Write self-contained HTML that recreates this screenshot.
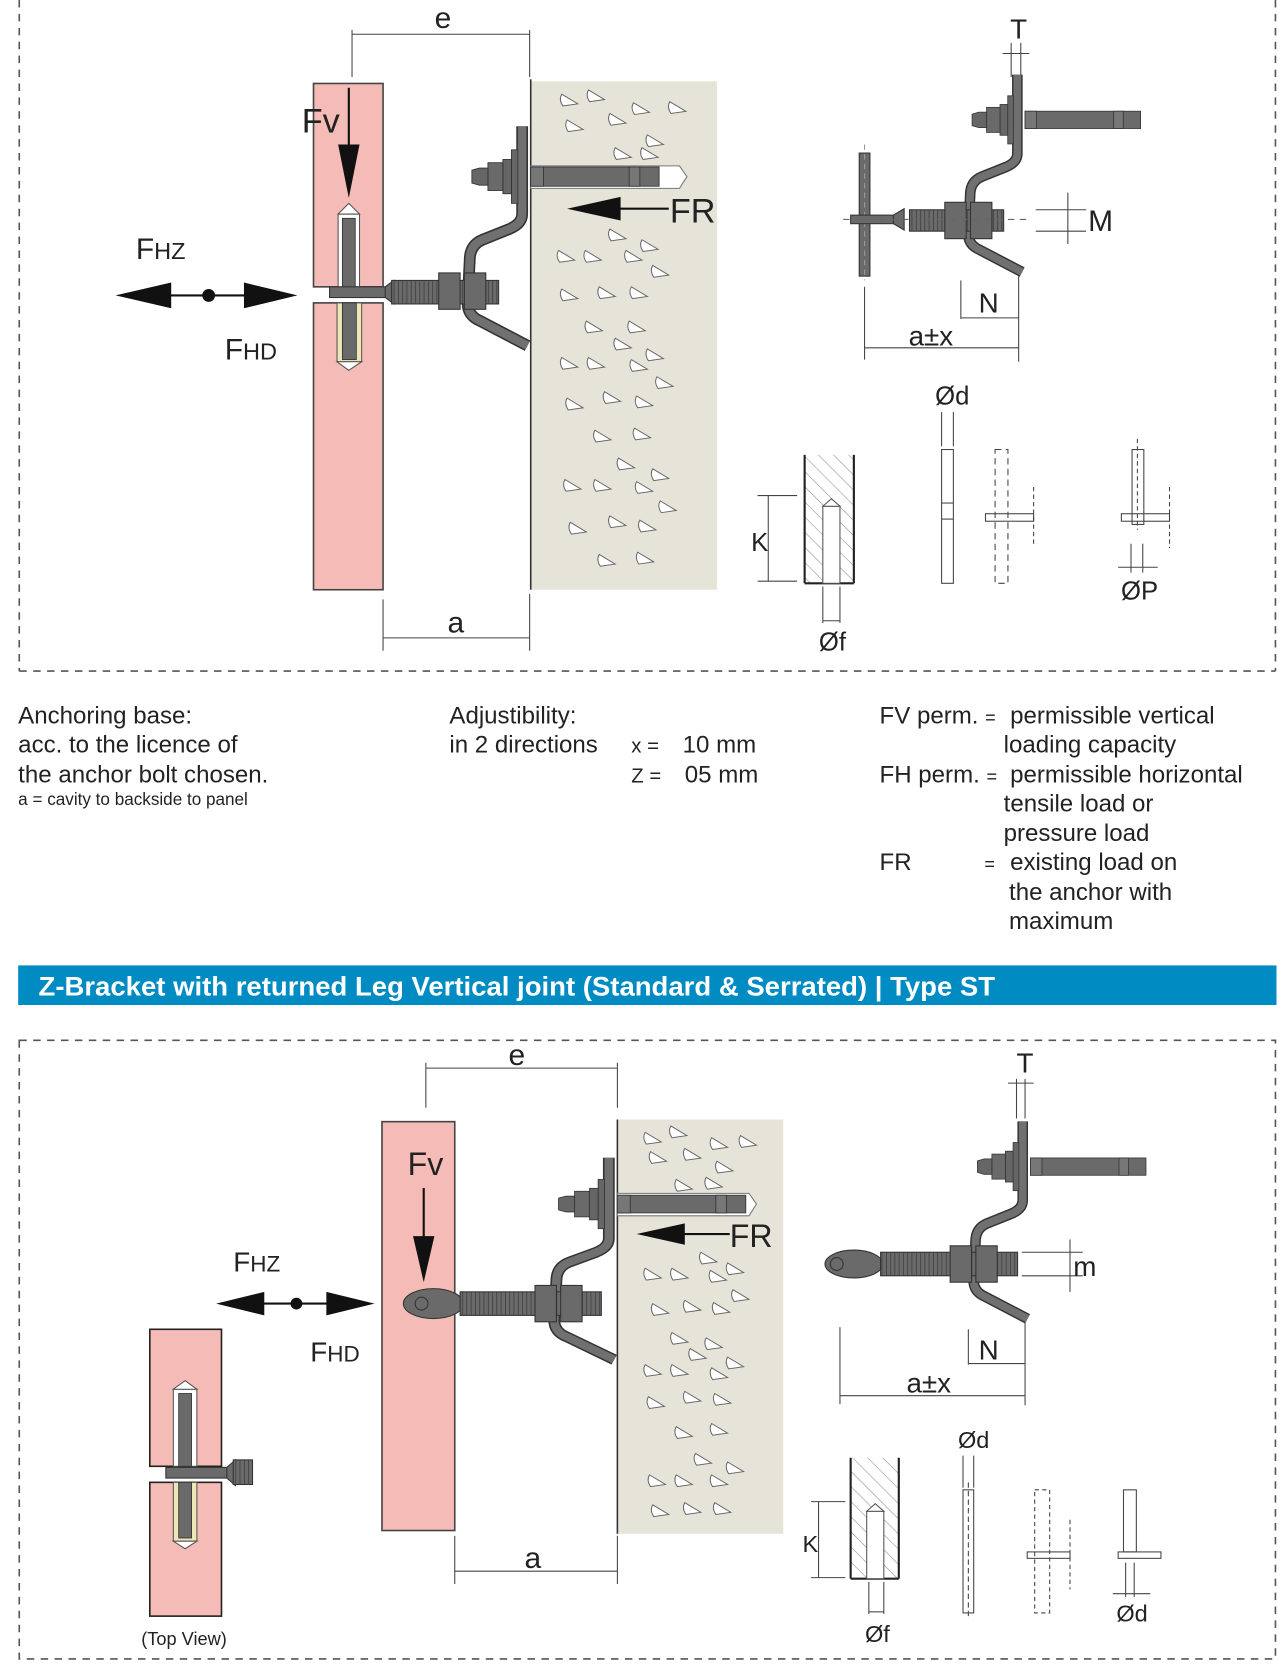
<!DOCTYPE html>
<html><head><meta charset="utf-8"><style>
html,body{margin:0;padding:0;background:#fff}
svg{display:block}
text{font-family:"Liberation Sans",sans-serif;fill:#222}
</style></head><body>
<svg width="1284" height="1675" viewBox="0 0 1200 1565" preserveAspectRatio="none" xmlns="http://www.w3.org/2000/svg">
<defs>
<path id="tri" d="M0,0 L15,9 L1,11 Q-3,5 0,0Z" fill="#fff" stroke="#666" stroke-width="0.9"/>
<g id="brk">
 <path d="M-8,-47 L-8,35 Q-8,44 -20,49 L-45,59 Q-57,64 -57,78 L-59,118 Q-59,130 -47,135 L-3,158" fill="none" stroke="#333" stroke-width="11" stroke-linejoin="round"/>
 <path d="M-8,-47 L-8,35 Q-8,44 -20,49 L-45,59 Q-57,64 -57,78 L-59,118 Q-59,130 -47,135 L-3,158" fill="none" stroke="#707070" stroke-width="8" stroke-linejoin="round"/>
 <rect x="-18" y="-25" width="6" height="50" fill="#666" stroke="#333" stroke-width="0.8"/>
 <rect x="-26" y="-16" width="8" height="32" fill="#666" stroke="#333" stroke-width="0.8"/>
 <rect x="-40" y="-13" width="14" height="26" fill="#6a6a6a" stroke="#333" stroke-width="0.8"/>
 <path d="M-55,-6 L-48,-8 L-40,-8 L-40,8 L-48,8 L-55,6Z" fill="#666" stroke="#333" stroke-width="0.8"/>
 <rect x="0" y="-9" width="120" height="18" fill="#6a6a6a" stroke="#333" stroke-width="0.8"/>
 <rect x="92" y="-9" width="10" height="18" fill="#777" stroke="#333" stroke-width="0.8"/>
 <rect x="0" y="-9" width="12" height="18" fill="#777" stroke="#333" stroke-width="0.8"/>
</g>
<g id="nuts">
 <rect x="-30" y="-17" width="20" height="34" fill="#6a6a6a" stroke="#333"/>
 <rect x="-6" y="-17" width="20" height="34" fill="#6a6a6a" stroke="#333"/>
</g>
<pattern id="hatch" width="10" height="10" patternUnits="userSpaceOnUse" patternTransform="rotate(-45)"><line x1="0" y1="0" x2="0" y2="10" stroke="#888" stroke-width="1"/></pattern>
<pattern id="thr" width="4" height="10" patternUnits="userSpaceOnUse"><rect width="4" height="10" fill="#6a6a6a"/><line x1="0" y1="0" x2="0" y2="10" stroke="#333" stroke-width="1.2"/></pattern>
</defs>

<g stroke="#555" stroke-width="1.5" stroke-dasharray="7,6" fill="none">
<line x1="18" y1="0" x2="18" y2="627"/><line x1="1192" y1="0" x2="1192" y2="627"/><line x1="18" y1="627" x2="1192" y2="627"/>
</g>
<g stroke="#444" stroke-width="1" fill="none">
<line x1="329" y1="32" x2="495" y2="32"/><line x1="329" y1="28" x2="329" y2="72"/><line x1="495" y1="28" x2="495" y2="72"/>
<line x1="358" y1="596" x2="495" y2="596"/><line x1="358" y1="560" x2="358" y2="608"/><line x1="495" y1="555" x2="495" y2="608"/>
</g>
<text x="414" y="26" font-size="28" text-anchor="middle">e</text>
<text x="426" y="591" font-size="28" text-anchor="middle">a</text>
<rect x="293" y="78" width="65" height="190" fill="#f5bcb7" stroke="#444" stroke-width="1.5"/>
<rect x="293" y="283" width="65" height="268" fill="#f5bcb7" stroke="#444" stroke-width="1.5"/>
<rect x="496" y="76" width="174" height="475" fill="#e6e4d8"/>
<line x1="496" y1="74" x2="496" y2="551" stroke="#333" stroke-width="1.5"/>
<g>
<use href="#tri" x="525" y="88"/><use href="#tri" x="550" y="84"/><use href="#tri" x="592" y="96"/><use href="#tri" x="626" y="95"/>
<use href="#tri" x="530" y="112"/><use href="#tri" x="570" y="106"/><use href="#tri" x="605" y="126"/><use href="#tri" x="575" y="138"/><use href="#tri" x="600" y="138"/>
<use href="#tri" x="570" y="214"/><use href="#tri" x="600" y="224"/><use href="#tri" x="522" y="234"/><use href="#tri" x="547" y="234"/><use href="#tri" x="585" y="234"/>
<use href="#tri" x="610" y="248"/><use href="#tri" x="525" y="270"/><use href="#tri" x="560" y="268"/><use href="#tri" x="590" y="268"/>
<use href="#tri" x="548" y="300"/><use href="#tri" x="588" y="300"/><use href="#tri" x="575" y="316"/><use href="#tri" x="605" y="326"/>
<use href="#tri" x="525" y="334"/><use href="#tri" x="550" y="334"/><use href="#tri" x="590" y="336"/><use href="#tri" x="614" y="352"/>
<use href="#tri" x="530" y="372"/><use href="#tri" x="565" y="366"/><use href="#tri" x="595" y="370"/><use href="#tri" x="556" y="402"/><use href="#tri" x="593" y="400"/>
<use href="#tri" x="578" y="428"/><use href="#tri" x="610" y="438"/><use href="#tri" x="528" y="448"/><use href="#tri" x="556" y="448"/><use href="#tri" x="595" y="450"/>
<use href="#tri" x="617" y="468"/><use href="#tri" x="533" y="488"/><use href="#tri" x="570" y="482"/><use href="#tri" x="598" y="486"/><use href="#tri" x="560" y="518"/><use href="#tri" x="596" y="516"/>
</g>
<path d="M496,155 L635,155 L642,165 L635,176 L496,176Z" fill="#fff" stroke="#777"/>
<use href="#brk" x="496" y="165"/>
<rect x="316" y="200" width="20" height="68" fill="#fff" stroke="#555"/>
<path d="M316,200 L326,190 L336,200Z" fill="#fff" stroke="#555"/>
<rect x="320" y="204" width="12" height="64" fill="#6a6a6a" stroke="#333" stroke-width="0.8"/>
<rect x="315" y="283" width="23" height="55" fill="#efe6b5" stroke="#555"/>
<path d="M315,338 L326,346 L338,338Z" fill="#fff" stroke="#555"/>
<rect x="320" y="283" width="13" height="53" fill="#6a6a6a" stroke="#333" stroke-width="0.8"/>
<rect x="308" y="268" width="55" height="10" fill="#6a6a6a" stroke="#333"/>
<path d="M360,268 L368,262 L368,284 L360,278Z" fill="#6a6a6a" stroke="#333"/>
<rect x="366" y="262" width="100" height="22" fill="url(#thr)" stroke="#333"/>
<use href="#nuts" x="440" y="272"/>
<line x1="326" y1="82" x2="326" y2="140" stroke="#111" stroke-width="2"/>
<path d="M316,135 L336,135 L326,185Z" fill="#111"/>
<text x="282" y="124" font-size="32">Fv</text>
<line x1="575" y1="195" x2="625" y2="195" stroke="#111" stroke-width="2"/>
<path d="M530,195 L580,184 L580,206Z" fill="#111"/>
<text x="626" y="208" font-size="32">FR</text>
<line x1="150" y1="276" x2="240" y2="276" stroke="#111" stroke-width="2"/>
<path d="M108,276 L160,264 L160,288Z M278,276 L228,264 L228,288Z" fill="#111"/>
<circle cx="195" cy="276" r="6" fill="#111"/>
<text x="127" y="242" font-size="28">F<tspan font-size="22">HZ</tspan></text>
<text x="210" y="336" font-size="28">F<tspan font-size="22">HD</tspan></text>

<g stroke="#444" stroke-width="1" fill="none">
<line x1="945" y1="40" x2="945" y2="72"/><line x1="954" y1="40" x2="954" y2="72"/><line x1="937" y1="50" x2="962" y2="50"/>
<line x1="998" y1="180" x2="998" y2="228"/><line x1="968" y1="196" x2="1015" y2="196"/><line x1="968" y1="216" x2="1015" y2="216"/>
<line x1="898" y1="262" x2="898" y2="298"/><line x1="952" y1="255" x2="952" y2="338"/><line x1="898" y1="297" x2="952" y2="297"/>
<line x1="808" y1="268" x2="808" y2="336"/><line x1="808" y1="325" x2="952" y2="325"/>
</g>
<text x="952" y="36" font-size="26" text-anchor="middle">T</text>
<text x="1017" y="216" font-size="28">M</text>
<text x="924" y="292" font-size="26" text-anchor="middle">N</text>
<text x="870" y="323" font-size="26" text-anchor="middle">a±x</text>
<g transform="translate(958,112) scale(0.9)"><use href="#brk"/></g>
<rect x="803" y="143" width="10" height="115" fill="#6a6a6a" stroke="#333"/>
<line x1="808" y1="135" x2="808" y2="262" stroke="#999" stroke-dasharray="5,4"/>
<rect x="795" y="201" width="40" height="8" fill="#6a6a6a" stroke="#333"/>
<path d="M835,201 L845,195 L845,215 L835,209Z" fill="#6a6a6a" stroke="#333"/>
<rect x="850" y="196" width="88" height="20" fill="url(#thr)" stroke="#333"/>
<use href="#nuts" x="913" y="206"/>
<line x1="788" y1="205" x2="960" y2="205" stroke="#666" stroke-dasharray="6,5"/>
<rect x="752" y="425" width="46" height="120" fill="url(#hatch)"/>
<line x1="752" y1="425" x2="752" y2="545" stroke="#222" stroke-width="2"/><line x1="798" y1="425" x2="798" y2="545" stroke="#222" stroke-width="2"/><line x1="752" y1="545" x2="798" y2="545" stroke="#222" stroke-width="2"/>
<rect x="769" y="473" width="16" height="72" fill="#fff" stroke="#555"/><path d="M769,473 L777,466 L785,473Z" fill="#fff" stroke="#555"/>
<g stroke="#444" stroke-width="1" fill="none">
<line x1="708" y1="463" x2="745" y2="463"/><line x1="708" y1="543" x2="745" y2="543"/><line x1="718" y1="463" x2="718" y2="543"/>
<line x1="769" y1="548" x2="769" y2="582"/><line x1="785" y1="548" x2="785" y2="582"/><line x1="769" y1="580" x2="785" y2="580"/>
<line x1="880" y1="385" x2="880" y2="417"/><line x1="891" y1="385" x2="891" y2="417"/>
<rect x="880" y="420" width="11" height="125"/><line x1="880" y1="470" x2="891" y2="470"/><line x1="880" y1="485" x2="891" y2="485"/>
<rect x="930" y="420" width="12" height="125" stroke-dasharray="6,4"/><rect x="921" y="480" width="45" height="7"/><line x1="966" y1="455" x2="966" y2="510" stroke-dasharray="4,3"/>
<rect x="1058" y="420" width="11" height="70"/><rect x="1048" y="480" width="45" height="7"/><line x1="1093" y1="455" x2="1093" y2="512" stroke-dasharray="4,3"/>
<line x1="1063" y1="410" x2="1063" y2="495" stroke-dasharray="4,3"/>
<line x1="1057" y1="508" x2="1057" y2="535"/><line x1="1068" y1="508" x2="1068" y2="535"/><line x1="1045" y1="530" x2="1082" y2="530"/>
</g>
<text x="702" y="515" font-size="24">K</text>
<text x="778" y="608" font-size="24" text-anchor="middle">Øf</text>
<text x="890" y="378" font-size="24" text-anchor="middle">Ød</text>
<text x="1065" y="560" font-size="24" text-anchor="middle">ØP</text>

<g font-size="22.5">
<text x="17" y="676">Anchoring base:</text>
<text x="17" y="703">acc. to the licence of</text>
<text x="17" y="731">the anchor bolt chosen.</text>
<text x="17" y="752" font-size="16">a = cavity to backside to panel</text>
<text x="420" y="676">Adjustibility:</text>
<text x="420" y="703">in  2  directions</text>
<text x="590" y="703" font-size="19">x =</text><text x="638" y="703">10 mm</text>
<text x="590" y="731" font-size="19">Z =</text><text x="640" y="731">05 mm</text>
<text x="822" y="676">FV perm. <tspan font-size="17">=</tspan></text><text x="944" y="676">permissible vertical</text>
<text x="938" y="703">loading capacity</text>
<text x="822" y="731">FH perm. <tspan font-size="17">=</tspan></text><text x="944" y="731">permissible horizontal</text>
<text x="938" y="758">tensile load or</text>
<text x="938" y="786">pressure load</text>
<text x="822" y="813">FR</text><text x="920" y="813" font-size="17">=</text><text x="944" y="813">existing load on</text>
<text x="943" y="841">the anchor  with</text>
<text x="943" y="868">maximum</text>
</g>

<rect x="17" y="902" width="1176" height="37" fill="#008bc2"/>
<text x="36" y="930" font-size="25" font-weight="bold" textLength="894" lengthAdjust="spacingAndGlyphs" style="fill:#fff">Z-Bracket with returned Leg Vertical joint (Standard &amp; Serrated)  | Type ST</text>

<g stroke="#555" stroke-width="1.5" stroke-dasharray="7,6" fill="none">
<rect x="18" y="972" width="1174" height="578"/>
</g>
<g stroke="#444" stroke-width="1" fill="none">
<line x1="398" y1="998" x2="577" y2="998"/><line x1="398" y1="993" x2="398" y2="1035"/><line x1="577" y1="993" x2="577" y2="1035"/>
<line x1="425" y1="1468" x2="577" y2="1468"/><line x1="425" y1="1435" x2="425" y2="1480"/><line x1="577" y1="1435" x2="577" y2="1480"/>
</g>
<text x="483" y="995" font-size="28" text-anchor="middle">e</text>
<text x="498" y="1465" font-size="28" text-anchor="middle">a</text>
<rect x="357" y="1048" width="68" height="382" fill="#f5bcb7" stroke="#444" stroke-width="1.5"/>
<rect x="577" y="1046" width="155" height="387" fill="#e6e4d8"/>
<line x1="577" y1="1046" x2="577" y2="1433" stroke="#333" stroke-width="1.5"/>
<g>
<use href="#tri" x="603" y="1058"/><use href="#tri" x="627" y="1052"/><use href="#tri" x="665" y="1063"/><use href="#tri" x="692" y="1061"/>
<use href="#tri" x="608" y="1076"/><use href="#tri" x="640" y="1073"/><use href="#tri" x="670" y="1085"/><use href="#tri" x="632" y="1102"/><use href="#tri" x="660" y="1100"/>
<use href="#tri" x="655" y="1170"/><use href="#tri" x="680" y="1180"/><use href="#tri" x="603" y="1185"/><use href="#tri" x="628" y="1185"/><use href="#tri" x="664" y="1187"/>
<use href="#tri" x="685" y="1205"/><use href="#tri" x="610" y="1218"/><use href="#tri" x="640" y="1215"/><use href="#tri" x="667" y="1217"/>
<use href="#tri" x="628" y="1245"/><use href="#tri" x="660" y="1250"/><use href="#tri" x="645" y="1260"/><use href="#tri" x="680" y="1268"/>
<use href="#tri" x="603" y="1275"/><use href="#tri" x="628" y="1275"/><use href="#tri" x="665" y="1278"/><use href="#tri" x="606" y="1305"/><use href="#tri" x="640" y="1300"/><use href="#tri" x="668" y="1302"/>
<use href="#tri" x="632" y="1333"/><use href="#tri" x="665" y="1330"/><use href="#tri" x="650" y="1358"/><use href="#tri" x="680" y="1366"/>
<use href="#tri" x="607" y="1378"/><use href="#tri" x="632" y="1378"/><use href="#tri" x="665" y="1378"/><use href="#tri" x="610" y="1406"/><use href="#tri" x="640" y="1404"/><use href="#tri" x="668" y="1404"/>
</g>
<path d="M577,1115 L700,1115 L707,1125 L700,1136 L577,1136Z" fill="#fff" stroke="#777"/>
<g transform="translate(577,1125) scale(1,0.92)"><use href="#brk"/></g>
<ellipse cx="405" cy="1218" rx="28" ry="14" fill="#6a6a6a" stroke="#333"/>
<circle cx="394" cy="1218" r="6" fill="none" stroke="#333"/>
<rect x="430" y="1207" width="132" height="22" fill="url(#thr)" stroke="#333"/>
<use href="#nuts" x="530" y="1218"/>
<line x1="396" y1="1110" x2="396" y2="1160" stroke="#111" stroke-width="2"/>
<path d="M386,1155 L406,1155 L396,1198Z" fill="#111"/>
<text x="381" y="1098" font-size="30">Fv</text>
<line x1="635" y1="1153" x2="682" y2="1153" stroke="#111" stroke-width="2"/>
<path d="M595,1153 L640,1143 L640,1163Z" fill="#111"/>
<text x="682" y="1165" font-size="30">FR</text>
<line x1="240" y1="1218" x2="315" y2="1218" stroke="#111" stroke-width="2"/>
<path d="M202,1218 L247,1207 L247,1229Z M350,1218 L305,1207 L305,1229Z" fill="#111"/>
<circle cx="277" cy="1218" r="5.5" fill="#111"/>
<text x="218" y="1188" font-size="26">F<tspan font-size="21">HZ</tspan></text>
<text x="290" y="1272" font-size="26">F<tspan font-size="21">HD</tspan></text>
<rect x="140" y="1242" width="67" height="128" fill="#f5bcb7" stroke="#222" stroke-width="1.5"/>
<rect x="140" y="1385" width="67" height="125" fill="#f5bcb7" stroke="#222" stroke-width="1.5"/>
<rect x="162" y="1298" width="22" height="72" fill="#fff" stroke="#555"/><path d="M162,1298 L173,1290 L184,1298Z" fill="#fff" stroke="#555"/>
<rect x="167" y="1302" width="12" height="68" fill="#6a6a6a" stroke="#333" stroke-width="0.8"/>
<rect x="162" y="1385" width="22" height="55" fill="#efe6b5" stroke="#555"/><path d="M162,1440 L173,1447 L184,1440Z" fill="#fff" stroke="#555"/>
<rect x="167" y="1385" width="12" height="52" fill="#6a6a6a" stroke="#333" stroke-width="0.8"/>
<rect x="155" y="1371" width="60" height="10" fill="#6a6a6a" stroke="#333"/>
<path d="M212,1371 L220,1364 L220,1388 L212,1381Z" fill="#6a6a6a" stroke="#333"/>
<rect x="218" y="1364" width="18" height="23" fill="url(#thr)" stroke="#333"/>
<text x="172" y="1537" font-size="17" text-anchor="middle">(Top View)</text>
<g stroke="#444" stroke-width="1" fill="none">
<line x1="950" y1="1008" x2="950" y2="1045"/><line x1="958" y1="1008" x2="958" y2="1045"/><line x1="942" y1="1012" x2="966" y2="1012"/>
<line x1="1000" y1="1158" x2="1000" y2="1207"/><line x1="955" y1="1170" x2="1012" y2="1170"/><line x1="955" y1="1192" x2="1012" y2="1192"/>
<line x1="905" y1="1242" x2="905" y2="1275"/><line x1="958" y1="1235" x2="958" y2="1313"/><line x1="905" y1="1274" x2="958" y2="1274"/>
<line x1="785" y1="1240" x2="785" y2="1312"/><line x1="785" y1="1304" x2="958" y2="1304"/>
</g>
<text x="958" y="1002" font-size="26" text-anchor="middle">T</text>
<text x="1003" y="1192" font-size="26">m</text>
<text x="924" y="1270" font-size="26" text-anchor="middle">N</text>
<text x="868" y="1301" font-size="26" text-anchor="middle">a±x</text>
<g transform="translate(963,1090) scale(0.9)"><use href="#brk"/></g>
<ellipse cx="798" cy="1181" rx="27" ry="13" fill="#6a6a6a" stroke="#333"/>
<circle cx="782" cy="1181" r="6" fill="none" stroke="#333"/>
<rect x="823" y="1170" width="128" height="22" fill="url(#thr)" stroke="#333"/>
<use href="#nuts" x="918" y="1181"/>
<rect x="795" y="1362" width="45" height="113" fill="url(#hatch)"/>
<line x1="795" y1="1362" x2="795" y2="1475" stroke="#222" stroke-width="2"/><line x1="840" y1="1362" x2="840" y2="1475" stroke="#222" stroke-width="2"/><line x1="795" y1="1475" x2="840" y2="1475" stroke="#222" stroke-width="2"/>
<rect x="810" y="1412" width="16" height="63" fill="#fff" stroke="#555"/><path d="M810,1412 L818,1405 L826,1412Z" fill="#fff" stroke="#555"/>
<g stroke="#444" stroke-width="1" fill="none">
<line x1="758" y1="1403" x2="790" y2="1403"/><line x1="758" y1="1474" x2="790" y2="1474"/><line x1="765" y1="1403" x2="765" y2="1474"/>
<line x1="812" y1="1478" x2="812" y2="1508"/><line x1="826" y1="1478" x2="826" y2="1508"/><line x1="812" y1="1506" x2="826" y2="1506"/>
<line x1="900" y1="1360" x2="900" y2="1390"/><line x1="910" y1="1360" x2="910" y2="1390"/>
<rect x="900" y="1392" width="10" height="115"/><line x1="905" y1="1385" x2="905" y2="1512" stroke-dasharray="5,3"/>
<rect x="967" y="1392" width="14" height="115" stroke-dasharray="4,3"/><rect x="960" y="1450" width="40" height="6"/><line x1="1000" y1="1420" x2="1000" y2="1485" stroke-dasharray="4,3"/>
<rect x="1050" y="1392" width="12" height="58"/><rect x="1045" y="1450" width="40" height="6"/>
<line x1="1052" y1="1460" x2="1052" y2="1492"/><line x1="1060" y1="1460" x2="1060" y2="1492"/><line x1="1040" y1="1489" x2="1075" y2="1489"/>
</g>
<text x="910" y="1353" font-size="22" text-anchor="middle">Ød</text>
<text x="750" y="1450" font-size="22">K</text>
<text x="820" y="1534" font-size="22" text-anchor="middle">Øf</text>
<text x="1058" y="1515" font-size="22" text-anchor="middle">Ød</text>
</svg>
</body></html>
